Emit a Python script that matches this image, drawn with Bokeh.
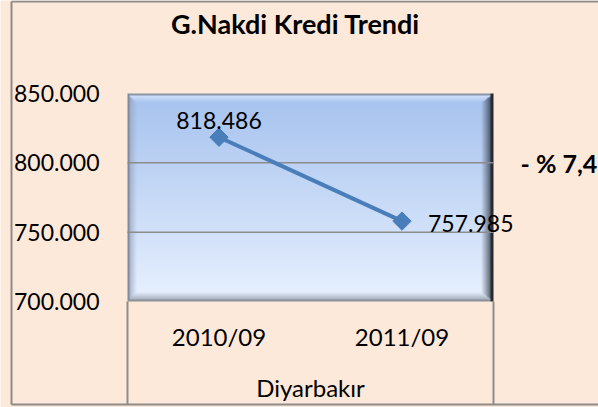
import numpy as np
from bokeh.plotting import figure
from bokeh.models import Range1d, FixedTicker, ColumnDataSource
from bokeh.core.properties import value
from bokeh.embed import file_html
from bokeh.resources import INLINE

# ---------------- data ----------------
title_text = "G.Nakdi Kredi Trendi"
region = "Diyarbakır"
periods = ["2010/09", "2011/09"]
values = [818486, 757985]
value_labels = ["818.486", "757.985"]
y_ticks = [700000, 750000, 800000, 850000]
y_tick_labels = ["700.000", "750.000", "800.000", "850.000"]
change_label = "- % 7,4"

# ---------------- layout (figure pixels) ----------------
W, H = 598, 407
PL, PT, PR, PB = 127, 93, 493, 301       # plot area
n = len(periods)
ymin, ymax = min(y_ticks), max(y_ticks)
sx = (PR - PL) / n
sy = (PB - PT) / (ymax - ymin)
x_start = (0 - PL) / sx
x_end = n + (W - PR) / sx
y_end = ymax + (PT - 0) / sy
y_start = ymin - (H - PB) / sy

def dx(fx):
    return (fx - PL) / sx

def dy(fy):
    return ymax - (fy - PT) / sy

FONT = value("Lato")
BG = "#FDE9D9"
GRID = "#8C8C8C"
LINE = "#4A7EBB"

p = figure(width=W, height=H, x_range=Range1d(x_start, x_end),
           y_range=Range1d(y_start, y_end), output_backend="svg",
           toolbar_location=None, tools="", min_border=0)
p.title.visible = False
p.background_fill_color = BG
p.border_fill_color = BG
p.outline_line_color = None
p.xgrid.visible = False
p.ygrid.visible = False

# outer chart border (left, top, bottom)
p.segment(x0=[dx(11), dx(11), dx(11)], x1=[dx(11), x_end, x_end],
          y0=[dy(1), dy(1), dy(404)], y1=[dy(404), dy(1), dy(404)],
          line_color=GRID, line_width=2)

# ---------------- plot area gradient with bevel ----------------
Wp, Hp = PR - PL, PB - PT
rows = np.arange(Hp)[:, None] * np.ones((1, Wp))
cols = np.ones((Hp, 1)) * np.arange(Wp)[None, :]
top_c = np.array([166, 194, 238], float)
bot_c = np.array([232, 241, 255], float)
f = (rows / (Hp - 1))[..., None]
base = top_c * (1 - f) + bot_c * f
dists = np.stack([rows / 9.0, (Hp - 1 - rows) / 9.0, cols / 9.0, (Wp - 1 - cols) / 12.0])
edge_cols = np.array([[222, 235, 255], [140, 150, 166], [150, 162, 186], [40, 45, 56]], float)
idx = np.argmin(dists, axis=0)
tmin = np.min(dists, axis=0)
ec = edge_cols[idx]
t = np.clip(tmin, 0, 1)[..., None] ** 0.8
col = np.where(tmin[..., None] < 1, ec * (1 - t) + base * t, base)
col[:2, :, :] = [138, 148, 166]
col[:, :2, :] = [128, 138, 158]
col[-2:, :, :] = [140, 145, 152]
col[:, -3:, :] = [38, 42, 50]
img = np.empty((Hp, Wp), dtype=np.uint32)
view = img.view(dtype=np.uint8).reshape((Hp, Wp, 4))
view[..., 0] = col[..., 0].astype(np.uint8)
view[..., 1] = col[..., 1].astype(np.uint8)
view[..., 2] = col[..., 2].astype(np.uint8)
view[..., 3] = 255
img = np.flipud(img)
p.image_rgba(image=[img], x=0, y=ymin, dw=n, dh=ymax - ymin)

# gridlines inside plot area
inner = y_ticks[1:-1]
p.segment(x0=[0] * len(inner), x1=[n] * len(inner), y0=inner, y1=inner,
          line_color=GRID, line_width=1.5)

# vertical separators under the plot area
p.segment(x0=[0, n], x1=[0, n], y0=[ymin, ymin], y1=[dy(404), dy(404)],
          line_color=GRID, line_width=2)

# ---------------- series ----------------
xs = [i + 0.5 for i in range(n)]
src = ColumnDataSource(dict(x=xs, y=values, text=value_labels,
                            xo=[0, 26], yo=[-17, 2], al=["center", "left"]))
p.line(x="x", y="y", source=src, line_color=LINE, line_width=4)
p.scatter(x="x", y="y", source=src, marker="square", angle=np.pi / 4,
          size=13, fill_color=LINE, line_color=LINE)
p.text(x="x", y="y", text="text", source=src, x_offset="xo", y_offset="yo",
       text_align="al", text_baseline="middle", text_font=FONT,
       text_font_size="23px", text_color="#000000")

# ---------------- axes ----------------
p.yaxis.fixed_location = 0
p.yaxis.ticker = FixedTicker(ticks=y_ticks)
p.yaxis.major_label_overrides = {t_: l_ for t_, l_ in zip(y_ticks, y_tick_labels)}
p.yaxis.major_label_standoff = 22
p.yaxis.axis_line_color = None
p.yaxis.major_tick_line_color = None
p.yaxis.minor_tick_line_color = None
p.yaxis.major_label_text_font = "Lato"
p.yaxis.major_label_text_font_size = "23px"
p.yaxis.major_label_text_color = "#000000"

p.xaxis.fixed_location = ymin
p.xaxis.ticker = FixedTicker(ticks=xs)
p.xaxis.major_label_overrides = {x_: l_ for x_, l_ in zip(xs, periods)}
p.xaxis.major_label_standoff = 14
p.xaxis.axis_line_color = None
p.xaxis.major_tick_line_color = None
p.xaxis.minor_tick_line_color = None
p.xaxis.major_label_text_font = "Lato"
p.xaxis.major_label_text_font_size = "24px"
p.xaxis.major_label_text_color = "#000000"

# ---------------- texts ----------------
p.text(x=[n / 2], y=[dy(387)], text=[region], text_align="center",
       text_baseline="middle", text_font=FONT, text_font_size="24px",
       text_color="#000000")
p.text(x=[dx(295)], y=[dy(23)], text=[title_text], text_align="center",
       text_baseline="middle", text_font=FONT, text_font_size="27px",
       text_font_style="bold", text_color="#000000")
p.text(x=[dx(520)], y=[dy(162)], text=[change_label], text_align="left",
       text_baseline="middle", text_font=FONT, text_font_size="25px",
       text_font_style="bold", text_color="#000000")

open("out.html", "w").write(file_html(p, INLINE))
